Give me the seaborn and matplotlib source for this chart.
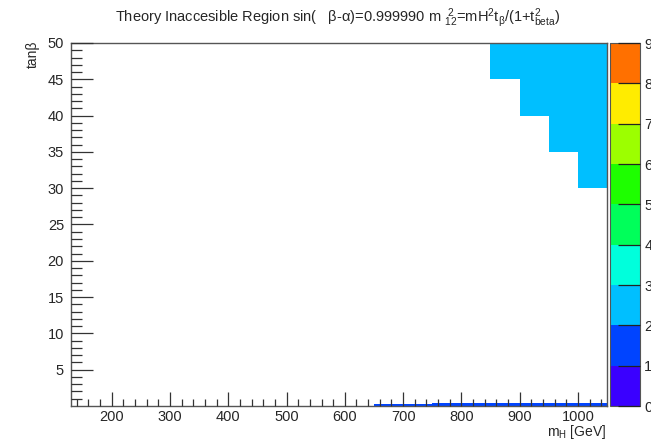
import numpy as np
import pandas as pd
import matplotlib
matplotlib.use("Agg")
import matplotlib.pyplot as plt
from matplotlib.colors import ListedColormap
import seaborn as sns

# Inaccessible region: upper band (value per mH column, lower tanβ bound)
upper_mh_lo = [850, 900, 950, 1000]
upper_mh_hi = [900, 950, 1000, 1050]
upper_tanb_lo = [45, 40, 35, 30]
upper_tanb_hi = [50, 50, 50, 50]
upper_level = 2.5

# Inaccessible region: thin strip at small tanβ
strip_mh_lo = [650, 750, 850]
strip_mh_hi = [750, 850, 1050]
strip_tanb_lo = [0.0, 0.0, 0.0]
strip_tanb_hi = [0.25, 0.36, 0.48]
strip_level = 1.5

# Axis ranges and colour levels
mh_range = (130, 1050)
tanb_range = (0, 50)
z_levels = list(range(0, 10))
palette = ["#3a00ff", "#0044ff", "#00bfff", "#00ffdc", "#00ff5a",
           "#1eff00", "#9cff00", "#ffec00", "#ff7000"]

# Build cell grid from all region boundaries
x_edges = sorted(set([mh_range[0], mh_range[1]] + upper_mh_lo + upper_mh_hi
                     + strip_mh_lo + strip_mh_hi))
y_edges = sorted(set([tanb_range[0], tanb_range[1]] + upper_tanb_lo + upper_tanb_hi
                     + strip_tanb_lo + strip_tanb_hi))

rows = []
for i in range(len(x_edges) - 1):
    for j in range(len(y_edges) - 1):
        xc = 0.5 * (x_edges[i] + x_edges[i + 1])
        yc = 0.5 * (y_edges[j] + y_edges[j + 1])
        w = 0.0
        for a, b, c, d in zip(upper_mh_lo, upper_mh_hi, upper_tanb_lo, upper_tanb_hi):
            if a <= xc < b and c <= yc < d:
                w = upper_level
        for a, b, c, d in zip(strip_mh_lo, strip_mh_hi, strip_tanb_lo, strip_tanb_hi):
            if a <= xc < b and c <= yc < d:
                w = strip_level
        rows.append((xc, yc, w))
df = pd.DataFrame(rows, columns=["mH", "tanb", "z"])

sns.set_style("white")
plt.rcParams["font.family"] = ["Liberation Sans", "DejaVu Sans"]
plt.rcParams["mathtext.fontset"] = "custom"
plt.rcParams["mathtext.rm"] = "Liberation Sans"
plt.rcParams["mathtext.it"] = "Liberation Sans"
plt.rcParams["mathtext.bf"] = "Liberation Sans"
plt.rcParams["axes.axisbelow"] = False

W, H = 651, 440
fig = plt.figure(figsize=(W / 100, H / 100), dpi=100)
ax = fig.add_axes([71 / W, 1 - 406 / H, (607 - 71) / W, (406 - 43) / H])
cax = fig.add_axes([610 / W, 1 - 406 / H, (640 - 610) / W, (406 - 43) / H])

cmap = ListedColormap(palette)
sns.histplot(data=df, x="mH", y="tanb", weights="z", bins=(x_edges, y_edges),
             cmap=cmap, vmin=z_levels[0], vmax=z_levels[-1], thresh=0,
             cbar=True, cbar_ax=cax, ax=ax)

ax.set_axisbelow(False)
cax.set_axisbelow(False)
ax.set_xlim(*mh_range)
ax.set_ylim(*tanb_range)
ax.set_xlabel("")
ax.set_ylabel("")
ax.set_xticks([200, 300, 400, 500, 600, 700, 800, 900, 1000])
ax.set_xticks(np.arange(140, 1050, 20), minor=True)
ax.set_yticks([5, 10, 15, 20, 25, 30, 35, 40, 45, 50])
ax.set_yticks(np.arange(1, 50, 1), minor=True)
ax.tick_params(which="both", bottom=True, left=True, top=False, right=False)
ax.tick_params(axis="x", which="major", direction="in", length=10, width=0.9,
               color="#333333", labelsize=10.5, pad=3)
ax.tick_params(axis="x", which="minor", direction="in", length=5, width=0.9,
               color="#333333")
ax.tick_params(axis="y", which="major", direction="in", length=16, width=0.9,
               color="#333333", labelsize=10.5, pad=5)
ax.tick_params(axis="y", which="minor", direction="in", length=8, width=0.9,
               color="#333333")
for s in ax.spines.values():
    s.set_color("#555555")
    s.set_linewidth(1.0)
ax.grid(False)

cax.set_yticks(z_levels)
cax.minorticks_off()
cax.tick_params(axis="y", which="major", direction="in", length=16, width=0.9,
                color="#222222", labelsize=10.5, pad=3, right=True, left=False)
for s in cax.spines.values():
    s.set_color("#555555")
    s.set_linewidth(0.8)

fig.text(338 / W, 1 - 18 / H,
         r"Theory Inaccesible Region sin(   β-α)=0.999990 m $^{\ 2}_{12}$=mH$^{2}$t$_{\beta}$/(1+t$^{2}_{\rm beta}$)",
         ha="center", va="center", fontsize=10.5)
fig.text(33 / W, 1 - 41 / H, "tanβ", rotation=90, ha="center", va="top", fontsize=10)
fig.text(606 / W, 1 - 432 / H, r"m$_{\rm H}$ [GeV]", ha="right", va="center", fontsize=10)

fig.savefig("out.png", dpi=100)
